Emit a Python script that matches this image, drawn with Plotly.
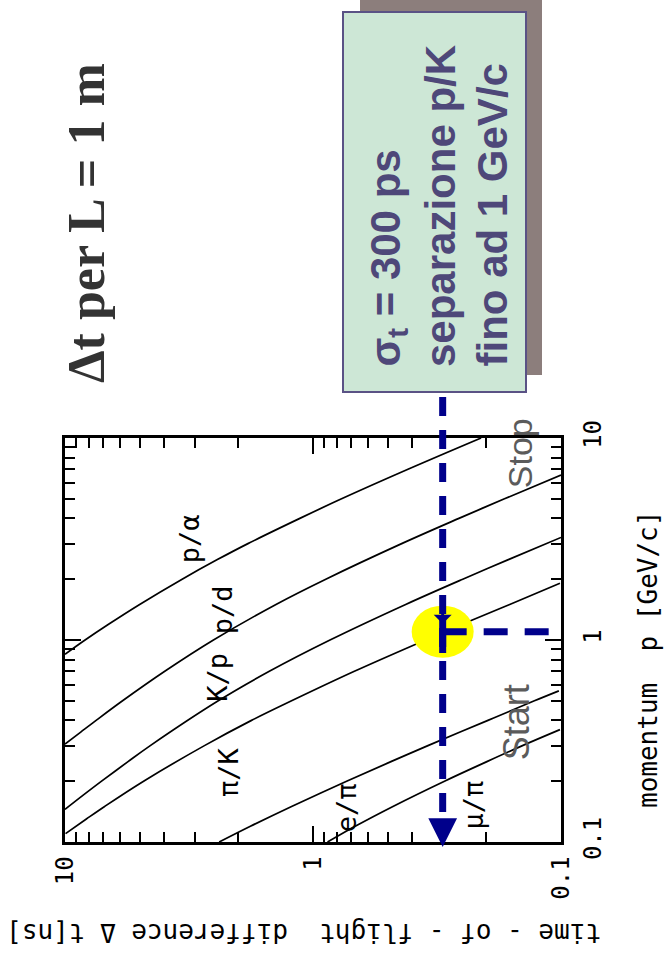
import numpy as np
import plotly.graph_objects as go

# ---------------- data: time-of-flight difference (ns) for L = 1 m vs momentum p (GeV/c)
p_alpha_p  = [0.85, 1.0, 1.2, 1.5, 2.0, 2.5, 3.0, 4.0, 5.0, 7.0, 10.0]
p_alpha_dt = [10.0, 8.30, 6.65, 5.00, 3.37, 2.43, 1.83, 1.13, 0.767, 0.414, 0.210]

p_d_p  = [0.305, 0.35, 0.4, 0.5, 0.7, 1.0, 1.5, 2.0, 3.0, 4.0, 5.0, 6.55]
p_d_dt = [10.0, 8.64, 7.49, 5.86, 3.96, 2.52, 1.41, 0.888, 0.439, 0.258, 0.169, 0.100]

k_p_p  = [0.145, 0.17, 0.2, 0.25, 0.3, 0.5, 0.7, 1.0, 1.5, 2.0, 2.5, 3.22]
k_p_dt = [10.0, 8.47, 7.12, 5.57, 4.53, 2.41, 1.50, 0.854, 0.423, 0.249, 0.163, 0.100]

pi_k_p  = [0.11, 0.13, 0.15, 0.2, 0.3, 0.4, 0.5, 0.7, 1.0, 1.2, 1.5, 1.91]
pi_k_dt = [9.95, 8.20, 6.92, 4.82, 2.74, 1.77, 1.22, 0.681, 0.352, 0.249, 0.161, 0.101]

e_pi_p  = [0.1, 0.12, 0.15, 0.2, 0.25, 0.3, 0.4, 0.5, 0.56]
e_pi_dt = [2.39, 1.78, 1.22, 0.732, 0.485, 0.344, 0.197, 0.128, 0.102]

mu_pi_p  = [0.1, 0.12, 0.15, 0.2, 0.25, 0.3, 0.36]
mu_pi_dt = [0.874, 0.673, 0.476, 0.295, 0.199, 0.143, 0.101]

curve_names = ["p/α", "p/d", "K/p", "π/K", "e/π", "μ/π"]

major_ticks = [0.1, 1, 10]
major_tick_text = ["0.1", "1", "10"]
minor_ticks = [0.2, 0.3, 0.4, 0.5, 0.6, 0.7, 0.8, 0.9, 2, 3, 4, 5, 6, 7, 8, 9]

SIGMA_T = 0.3      # ns  (300 ps)
P_SEP = 1.1        # GeV/c

title_text = "Δt per L = 1 m"
box_lines = ["σ<sub>t</sub> = 300 ps", "separazione p/K", "fino ad 1 GeV/c"]
x_title = "time - of - flight  difference Δ t[ns]"
y_title = "momentum  p [GeV/c]"

# ---------------- layout helpers (plot area in pixels)
W, H = 672, 961
PL, PR, PT, PB = 65, 561, 438, 842
DEC_X = (PR - PL) / 2.0   # pixels per decade, time axis
DEC_Y = (PB - PT) / 2.0   # pixels per decade, momentum axis


def fx(px):
    return (px - PL) / (PR - PL)


def fy(py):
    return (PB - py) / (PB - PT)


NAVY = "#00008B"
MONO = "DejaVu Sans Mono"
BOXTXT = "#4E4879"

fig = go.Figure()

curves = [(p_alpha_dt, p_alpha_p), (p_d_dt, p_d_p), (k_p_dt, k_p_p),
          (pi_k_dt, pi_k_p), (e_pi_dt, e_pi_p), (mu_pi_dt, mu_pi_p)]
for (dt, p), name in zip(curves, curve_names):
    fig.add_trace(go.Scatter(x=dt, y=p, mode="lines", name=name,
                             line=dict(color="black", width=1.7, shape="spline"),
                             showlegend=False, hoverinfo="skip"))

axis_common = dict(
    type="log", tickvals=major_ticks, ticktext=major_tick_text,
    ticks="inside", ticklen=16, tickwidth=2, tickcolor="black",
    minor=dict(tickvals=minor_ticks, ticks="inside", ticklen=10, tickwidth=1.5,
               tickcolor="black", showgrid=False),
    showline=True, linecolor="black", linewidth=2.5, mirror="allticks",
    showgrid=False, zeroline=False, tickangle=-90,
    tickfont=dict(family=MONO, size=24, color="black"),
)

fig.update_layout(
    width=W, height=H, autosize=False,
    margin=dict(l=PL, r=W - PR, t=PT, b=H - PB, pad=0),
    paper_bgcolor="white", plot_bgcolor="white",
    xaxis=dict(range=[1, -1], ticklabelstandoff=2, **axis_common),
    yaxis=dict(range=[-1, 1], side="right", ticklabelstandoff=8, **axis_common),
)

# ellipse half-sizes (pixels) converted to decades on each log axis
rx, ry = 31 / DEC_X, 26 / DEC_Y

shapes = []
# shadow + box
shapes.append(dict(type="rect", xref="paper", yref="paper",
                   x0=fx(360), x1=fx(542), y0=fy(375), y1=fy(-10),
                   fillcolor="#8C7E7C", line=dict(width=0)))
shapes.append(dict(type="rect", xref="paper", yref="paper",
                   x0=fx(343), x1=fx(526), y0=fy(392), y1=fy(12),
                   fillcolor="#CDE7D6", line=dict(color="#5A5285", width=2)))
# yellow marker
shapes.append(dict(type="circle", xref="x", yref="y",
                   x0=SIGMA_T * 10 ** rx, x1=SIGMA_T / 10 ** rx,
                   y0=P_SEP / 10 ** ry, y1=P_SEP * 10 ** ry,
                   fillcolor="#FFFF00", line=dict(width=0)))
# dashed guide lines
shapes.append(dict(type="line", xref="x", yref="paper", x0=SIGMA_T, x1=SIGMA_T,
                   y0=fy(397), y1=fy(830),
                   line=dict(color=NAVY, width=7, dash="19px,14px")))
shapes.append(dict(type="line", xref="x", yref="y", x0=SIGMA_T, x1=0.1,
                   y0=P_SEP, y1=P_SEP,
                   line=dict(color=NAVY, width=7, dash="24px,17px")))
shapes.append(dict(type="line", xref="x", yref="paper", x0=SIGMA_T, x1=SIGMA_T,
                   y0=fy(618), y1=fy(653), line=dict(color=NAVY, width=7)))
fig.update_layout(shapes=shapes)

ann = []
# arrows
ann.append(dict(x=np.log10(SIGMA_T), y=-1, xref="x", yref="y", text="", showarrow=True,
                ax=0, ay=-28, arrowhead=2, arrowsize=1.15, arrowwidth=5,
                arrowcolor=NAVY, standoff=0, yshift=-5))
ann.append(dict(x=np.log10(SIGMA_T), y=np.log10(P_SEP), xref="x", yref="y", text="",
                showarrow=True, ax=0, ay=-35, arrowhead=1, arrowsize=1, arrowwidth=3,
                arrowcolor=NAVY, standoff=8))

# curve labels
label_pos = [(3.16, 3.16), (2.33, 1.42), (2.42, 0.656), (2.20, 0.222), (0.736, 0.147), (0.226, 0.152)]
for name, (lx, ly) in zip(curve_names, label_pos):
    ann.append(dict(x=np.log10(lx), y=np.log10(ly), xref="x", yref="y",
                    text=name, showarrow=False, textangle=-90,
                    xanchor="center", yanchor="middle",
                    font=dict(family=MONO, size=27, color="black")))

# Start / Stop
ann.append(dict(x=np.log10(0.150), y=np.log10(0.393), xref="x", yref="y", text="Start",
                showarrow=False, textangle=-90, xanchor="center", yanchor="middle",
                font=dict(family="Liberation Sans", size=36, color="#5B5B5B")))
ann.append(dict(x=np.log10(0.146), y=np.log10(8.43), xref="x", yref="y", text="Stop",
                showarrow=False, textangle=-90, xanchor="center", yanchor="middle",
                font=dict(family="Liberation Sans", size=34, color="#5B5B5B")))

# axis titles
ann.append(dict(x=fx(304), y=fy(933), xref="paper", yref="paper", text=x_title,
                showarrow=False, textangle=180, xanchor="center", yanchor="middle",
                font=dict(family=MONO, size=26, color="black")))
ann.append(dict(x=fx(648), y=fy(660), xref="paper", yref="paper", text=y_title,
                showarrow=False, textangle=-90, xanchor="center", yanchor="middle",
                font=dict(family=MONO, size=26, color="black")))

# slide title
ann.append(dict(x=fx(86), y=fy(223), xref="paper", yref="paper", text=f"<b>{title_text}</b>",
                showarrow=False, textangle=-90, xanchor="center", yanchor="middle",
                font=dict(family="Liberation Serif", size=52, color="#333333")))

# box text
for cx, line in zip([388, 440, 492], box_lines):
    ann.append(dict(x=fx(cx), y=fy(369), xref="paper", yref="paper", text=f"<b>{line}</b>",
                    showarrow=False, textangle=-90, xanchor="center", yanchor="bottom",
                    font=dict(family="Liberation Sans", size=42, color=BOXTXT)))

fig.update_layout(annotations=ann)

fig.write_html("out.html")
